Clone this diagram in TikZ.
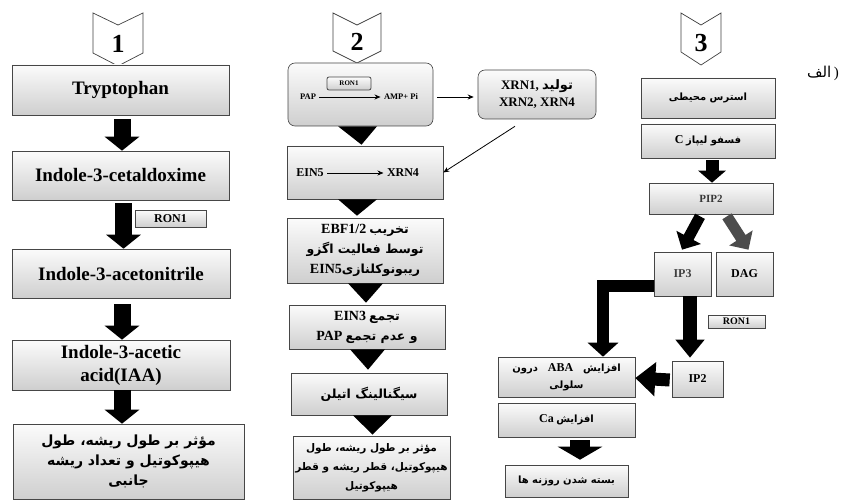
\documentclass[tikz,border=0pt]{standalone}
\usepackage{fontspec}
\setmainfont{Liberation Serif}
\newfontfamily\persianfont[Script=Arabic]{DejaVu Sans}
\TeXXeTstate=1
\usetikzlibrary{arrows.meta}
\newcommand{\prs}[1]{{\persianfont\beginR #1\endR}}
\newcommand{\fntA}{\fontsize{19}{23}\selectfont\bfseries}
\newcommand{\fntP}{\fontsize{12.5}{20}\selectfont\bfseries}
\newcommand{\fntQ}{\fontsize{10.5}{19}\selectfont\bfseries}
\newcommand{\fntR}{\fontsize{10}{17}\selectfont\bfseries}
\begin{document}
\begin{tikzpicture}[x=1pt,y=-1pt,
  gbox/.style={draw=gray!55!black, line width=0.6pt, top color=gray!3, bottom color=gray!38, inner sep=1pt, align=center, rectangle},
  gboxr/.style={gbox, rounded corners=7pt},
  chev/.style={draw=gray!50!black, line width=0.7pt, fill=white},
  digit/.style={font=\fontsize{26}{28}\selectfont\bfseries},
  bigarrow/.style={line width=17pt, -{Triangle[length=14pt,width=34pt]}},
  midarrow/.style={line width=13pt, -{Triangle[length=12pt,width=27pt]}},
  thinarrow/.style={line width=0.8pt, -{Stealth[length=6pt,width=5pt]}},
  ronbox/.style={gbox, line width=0.8pt}
]
\useasboundingbox (0,0) rectangle (843,500);

% ---------------- column 1 ----------------
\draw[chev] (93,13) -- (118,25) -- (143,13) -- (143,53) -- (118,66) -- (93,53) -- cycle;
\node[digit] (n1) at (118,44) {1};
\node[gbox, minimum width=217pt, minimum height=50pt, font=\fntA] (t1) at (120.5,90) {Tryptophan};
\node[gbox, minimum width=217pt, minimum height=49pt, font=\fntA] (t2) at (120.5,175.5) {Indole-3-cetaldoxime};
\node[gbox, minimum width=218pt, minimum height=49pt, font=\fntA] (t3) at (121,273.5) {Indole-3-acetonitrile};
\node[gbox, minimum width=218pt, minimum height=50pt, font=\fntA] (t4) at (121,365) {Indole-3-acetic\\acid(IAA)};
\node[gbox, minimum width=231pt, minimum height=75pt, font=\fontsize{14}{20}\selectfont\bfseries] (t5) at (128.5,461.5)
  {\prs{مؤثر بر طول ریشه، طول}\\\prs{هیپوکوتیل و تعداد ریشه}\\\prs{جانبی}};
\node[ronbox, minimum width=71pt, minimum height=17pt, font=\fontsize{12}{14}\selectfont\bfseries] (r1) at (170.5,218.5) {RON1};
\draw[bigarrow] ([xshift=1.5pt,yshift=-4pt]t1.south) -- ([xshift=1.5pt]t1.south |- t2.north);
\draw[bigarrow] ([xshift=3pt,yshift=-3pt]t2.south) -- ([xshift=3pt]t2.south |- t3.north);
\draw[bigarrow] ([xshift=1pt,yshift=-6pt]t3.south) -- ([xshift=1pt]t3.south |- t4.north);
\draw[bigarrow] ([xshift=1pt]t4.south) -- ([xshift=1pt]t4.south |- t5.north);

% ---------------- column 2 ----------------
\draw[chev] (333,13) -- (357,25) -- (381,13) -- (381,51) -- (357,63) -- (333,51) -- cycle;
\node[digit] (n2) at (357,42) {2};
\node[gboxr, minimum width=145pt, minimum height=63pt] (c2top) at (360.5,94.5) {};
\node[gbox, rounded corners=2pt, line width=0.8pt, minimum width=44pt, minimum height=13pt, font=\fontsize{7}{8}\selectfont\bfseries] (r2) at (349,83.5) {RON1};
\node[font=\fontsize{8.5}{10}\selectfont\bfseries] (pap) at (308,97) {PAP};
\node[font=\fontsize{8.5}{10}\selectfont\bfseries] (amp) at (401,97) {AMP+ Pi};
\draw[thinarrow] (pap) -- (amp);
\node[gboxr, minimum width=118pt, minimum height=49pt, font=\fontsize{13}{17}\selectfont\bfseries] (xrn) at (537,94.5)
  {XRN1, \prs{تولید}\\XRN2, XRN4};
\draw[thinarrow] ([xshift=4pt,yshift=-2.5pt]c2top.east) -- ([xshift=-4pt,yshift=-2.5pt]xrn.west);
\node[gbox, minimum width=156pt, minimum height=53pt] (e5) at (365,172.5) {};
\node[font=\fontsize{12}{14}\selectfont\bfseries] (e5a) at (310,173) {EIN5};
\node[font=\fontsize{12}{14}\selectfont\bfseries] (e5b) at (403,173) {XRN4};
\draw[thinarrow] (e5a) -- (e5b);
\draw[thinarrow] ([xshift=-22pt,yshift=-7pt]xrn.south) -- (e5.east);
\node[gbox, minimum width=156pt, minimum height=65pt, font=\fntP] (ebf) at (365,250.5)
  {{\fontsize{14}{20}\selectfont EBF1/2} \prs{تخریب}\\\prs{توسط فعالیت اگزو}\\{\fontsize{14}{20}\selectfont EIN5}\prs{ریبونوکلنازی}};
\node[gbox, minimum width=156pt, minimum height=44pt, font=\fntP] (e3) at (367,327)
  {{\fontsize{14}{20}\selectfont EIN3} \prs{تجمع}\\{\fontsize{14}{20}\selectfont PAP} \prs{و عدم تجمع}};
\node[gbox, minimum width=156pt, minimum height=42pt, font=\fntP] (eth) at (369,394) {\prs{سیگنالینگ اتیلن}};
\node[gbox, minimum width=157pt, minimum height=63pt, font=\fntQ] (f2) at (371.5,467.5)
  {\prs{مؤثر بر طول ریشه، طول}\\\prs{هیپوکوتیل، قطر ریشه و قطر}\\\prs{هیپوکوتیل}};
\fill ([xshift=-22.5pt]c2top.south) -- ([xshift=16.5pt]c2top.south) -- ([xshift=-3.5pt,yshift=1pt]e5.north) -- cycle;
\fill ([xshift=-27pt]e5.south) -- ([xshift=12pt]e5.south) -- ([xshift=-8pt,yshift=2pt]ebf.north) -- cycle;
\fill ([xshift=-17pt]ebf.south) -- ([xshift=18pt]ebf.south) -- ([xshift=-1pt,yshift=2pt]e3.north) -- cycle;
\fill ([xshift=-17pt]e3.south) -- ([xshift=18pt]e3.south) -- ([xshift=-1pt,yshift=3pt]eth.north) -- cycle;
\fill ([xshift=-16pt]eth.south) -- ([xshift=23pt]eth.south) -- ([xshift=1pt,yshift=1pt]f2.north) -- cycle;

% ---------------- column 3 ----------------
\draw[chev] (681,13) -- (701,25) -- (721,13) -- (721,52) -- (701,65) -- (681,52) -- cycle;
\node[digit] (n3) at (701,43) {3};
\node[font=\fontsize{15}{17}\selectfont] (alef) at (823,73) {\prs{الف}\,)};
\node[gbox, minimum width=134pt, minimum height=40pt, font=\fntR] (st) at (708,98) {\prs{استرس محیطی}};
\node[gbox, minimum width=134pt, minimum height=34pt, font=\fntR] (plc) at (708,141) {{\fontsize{12}{14}\selectfont C} \prs{فسفو لیپاز}};
\node[gbox, minimum width=124pt, minimum height=31pt, font=\fontsize{11}{13}\selectfont\bfseries, text=gray!45!black] (pip) at (711,198.5) {PIP2};
\node[gbox, minimum width=57pt, minimum height=44pt, font=\fontsize{12}{14}\selectfont\bfseries, text=gray!50!black] (ip3) at (682.5,274) {IP3};
\node[gbox, minimum width=57pt, minimum height=44pt, font=\fontsize{12}{14}\selectfont\bfseries] (dag) at (744.5,274) {DAG};
\node[ronbox, minimum width=57pt, minimum height=13pt, font=\fontsize{10}{12}\selectfont\bfseries] (r3) at (736.5,321.5) {RON1};
\node[gbox, minimum width=51pt, minimum height=36pt, font=\fontsize{12}{14}\selectfont\bfseries] (ip2) at (697.5,379) {IP2};
\node[gbox, minimum width=137pt, minimum height=40pt, font=\fntR] (aba) at (566.5,377)
  {\prs{درون}\quad{\fontsize{12}{14}\selectfont ABA}\quad\prs{افزایش}\\\prs{سلولی}};
\node[gbox, minimum width=137pt, minimum height=34pt, font=\fntR] (ca) at (566.5,420) {{\fontsize{12}{14}\selectfont Ca} \prs{افزایش}};
\node[gbox, minimum width=123pt, minimum height=32pt, font=\fntR] (f3) at (566.5,481) {\prs{بسته شدن روزنه ها}};

\draw[midarrow] ([xshift=4pt,yshift=-2pt]plc.south) -- ([xshift=4pt]plc.south |- pip.north);
\draw[line width=11pt, -{Triangle[length=14pt,width=27pt]}] ([xshift=-11pt,yshift=-2pt]pip.south) -- ([xshift=-0.5pt,yshift=2pt]ip3.north);
\draw[gray!60!black, line width=11pt, -{Triangle[length=14pt,width=27pt]}] ([xshift=16pt,yshift=-2pt]pip.south) -- ([xshift=4pt,yshift=2pt]dag.north);
\draw[line width=12pt, line join=miter, -{Triangle[length=14pt,width=30pt]}] ([yshift=-12pt]ip3.west) -| ([xshift=36.5pt]aba.north);
\draw[line width=14pt, -{Triangle[length=18pt,width=28pt]}] ([xshift=7.5pt]ip3.south) -- ([xshift=-7.5pt,yshift=3pt]ip2.north);
\draw[line width=13pt, -{Triangle[length=20pt,width=33pt]}] ([xshift=-2pt,yshift=-1pt]ip2.west) -- ([yshift=-1pt]aba.east);
\draw[line width=20pt, -{Triangle[length=13pt,width=44pt]}] ([xshift=13.5pt,yshift=-3pt]ca.south) -- ([xshift=13.5pt,yshift=5pt]f3.north);
\end{tikzpicture}
\end{document}
